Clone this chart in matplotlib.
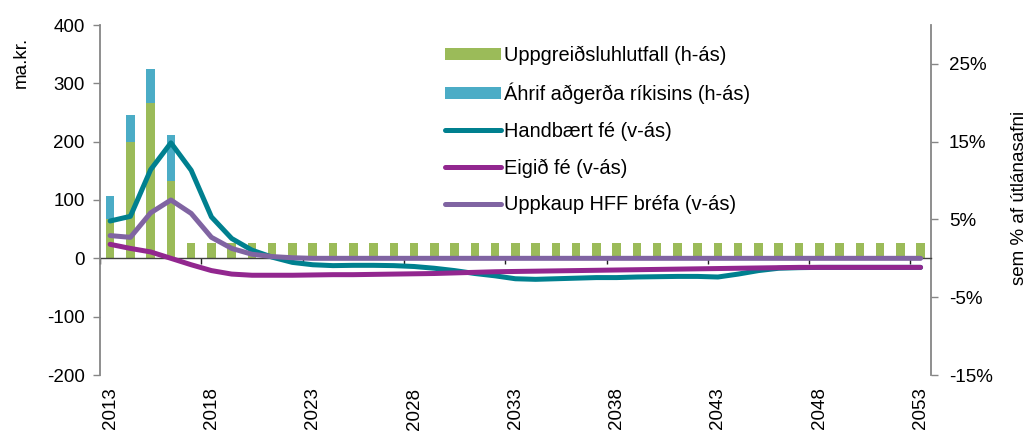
import matplotlib
matplotlib.use("Agg")
import matplotlib.pyplot as plt
import numpy as np
from matplotlib.ticker import FixedLocator, FuncFormatter

plt.rcParams['font.family'] = ['Liberation Sans', 'DejaVu Sans']
plt.rcParams['axes.unicode_minus'] = False

years = list(range(2013, 2054))

# Bars, right axis (% of loan portfolio)
uppgreidsla = [5.0, 15.0, 20.0, 10.0] + [2.0] * 37
ahrif_rikisins = [3.0, 3.4, 4.3, 5.9] + [0.0] * 37

# Lines, left axis (ma.kr.)
handbaert_fe = [64, 72, 152, 198, 151, 71, 34, 14, 2, -7, -11, -12.5, -12, -12, -12.5,
                -14, -17, -21, -26, -30, -35, -36, -35, -34, -33, -33, -32, -31.5, -31,
                -31, -32, -27, -21, -17, -16, -15.5, -15.5, -15.5, -15.5, -15.5, -15.5]
eigid_fe = [24, 17, 11, 0, -11, -21, -27, -29, -29, -29, -28.5, -28, -28, -27.5, -27,
            -26.5, -26, -25, -24, -23, -22.5, -22, -21.5, -21, -20.5, -20, -19.5, -19,
            -18.5, -18, -17.5, -17, -16.5, -16, -15.5, -15.5, -15.5, -15.5, -15.5,
            -15.5, -15.5]
uppkaup_hff = [39, 36, 78, 100, 77, 36, 17, 7, 3, 1] + [0] * 31

tick_years = list(range(2013, 2054, 5))

GREEN = '#9BBB59'
BLUE = '#4BACC6'
TEAL = '#00808F'
MAGENTA = '#92278F'
PURPLE = '#8064A2'
GRAY = '#868686'

fig = plt.figure(figsize=(10.30, 4.32), dpi=100)
W, H = 1030, 432
left, right, top, bottom = 100, 930.7, 25, 375
ax = fig.add_axes([left / W, 1 - bottom / H, (right - left) / W, (bottom - top) / H])
ax2 = ax.twinx()

x = np.arange(len(years))
bw = 0.42

# bars on the percentage axis
b1 = ax2.bar(x, uppgreidsla, width=bw, color=GREEN, label='Uppgreiðsluhlutfall (h-ás)', zorder=2)
b2 = ax2.bar(x, ahrif_rikisins, width=bw, bottom=uppgreidsla, color=BLUE,
             label='Áhrif aðgerða ríkisins (h-ás)', zorder=2)

# lines on the ma.kr. axis, drawn above the bars
lw = 3.6
l1, = ax.plot(x, handbaert_fe, color=TEAL, lw=lw, solid_capstyle='round',
              solid_joinstyle='round', label='Handbært fé (v-ás)', zorder=3)
l2, = ax.plot(x, eigid_fe, color=MAGENTA, lw=lw, solid_capstyle='round',
              solid_joinstyle='round', label='Eigið fé (v-ás)', zorder=4)
l3, = ax.plot(x, uppkaup_hff, color=PURPLE, lw=lw, solid_capstyle='round',
              solid_joinstyle='round', label='Uppkaup HFF bréfa (v-ás)', zorder=5)

ax.set_zorder(ax2.get_zorder() + 1)
ax.patch.set_visible(False)

ax.set_xlim(-0.5, len(years) - 0.5)
ax.set_ylim(-200, 400)
ax2.set_ylim(-15, 30)

fs = 13.5
# left axis
ax.set_yticks(np.arange(-200, 401, 100))
ax.tick_params(axis='y', direction='out', length=5, width=1, color=GRAY,
               labelsize=fs, pad=6)
for s in ['top', 'right', 'bottom']:
    ax.spines[s].set_visible(False)
ax.spines['left'].set_color(GRAY)
ax.spines['left'].set_linewidth(1.3)

# right axis
ax2.set_yticks([-15, -5, 5, 15, 25])
ax2.yaxis.set_major_formatter(FuncFormatter(lambda v, p: f'{v:.0f}%'))
ax2.tick_params(axis='y', direction='out', length=5, width=1, color=GRAY,
                labelsize=fs, pad=8)
for s in ['top', 'left', 'bottom']:
    ax2.spines[s].set_visible(False)
ax2.spines['right'].set_color(GRAY)
ax2.spines['right'].set_linewidth(1.3)

# year labels along the bottom
ax.set_xticks([years.index(y) for y in tick_years])
ax.set_xticklabels([str(y) for y in tick_years], rotation=90, fontsize=fs)
ax.tick_params(axis='x', length=0, pad=9)

# zero line with tick marks between category groups
zero_frac = (0 - (-200)) / 600
zx = ax.secondary_xaxis(zero_frac)
zx.spines['bottom'].set_color('#404040')
zx.spines['bottom'].set_linewidth(1.0)
zx.xaxis.set_major_locator(FixedLocator(np.arange(-0.5, len(years), 5)))
zx.tick_params(axis='x', direction='out', length=4, width=1, color='#202020',
               labelbottom=False)

# axis titles
fig.text(21 / W, 1 - 62 / H, 'ma.kr.', rotation=90, ha='center', va='center', fontsize=fs)
fig.text(1020 / W, 1 - 198 / H, 'sem % af útlánasafni', rotation=90, ha='center',
         va='center', fontsize=fs)

leg = ax.legend(handles=[b1, b2, l1, l2, l3], loc='upper left',
                bbox_to_anchor=(445 / W, 1 - 46 / H), bbox_transform=fig.transFigure,
                frameon=False, fontsize=14.4, borderpad=0, borderaxespad=0,
                handlelength=2.8, handleheight=0.54, handletextpad=0.15,
                labelspacing=0.88)

fig.savefig('out.png', dpi=100)
